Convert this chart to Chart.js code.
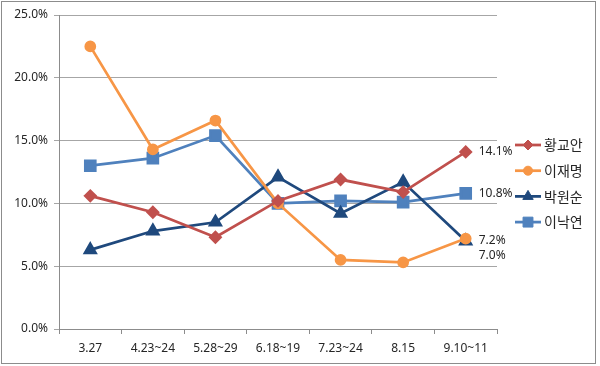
<!DOCTYPE html>
<html>
<head>
<meta charset="utf-8">
<script src="https://cdn.jsdelivr.net/npm/chart.js@4"></script>
<style>
html,body{margin:0;padding:0;background:#fff;}
#wrap{width:600px;height:366px;position:relative;}
</style>
</head>
<body>
<div id="wrap"><canvas id="c" width="600" height="366"></canvas></div>
<script>
const categories = ['3.27','4.23~24','5.28~29','6.18~19','7.23~24','8.15','9.10~11'];
const seriesNames = ['황교안','이재명','박원순','이낙연'];
const hwang = [10.6, 9.3, 7.3, 10.2, 11.9, 10.9, 14.1];
const lee_jm = [22.5, 14.3, 16.6, 10.0, 5.5, 5.3, 7.2];
const park = [6.3, 7.8, 8.5, 12.1, 9.2, 11.7, 7.0];
const lee_ny = [13.0, 13.6, 15.4, 10.0, 10.2, 10.1, 10.8];
const yTicks = [0, 5, 10, 15, 20, 25];

const colors = ['#C0504D', '#F79646', '#1F497D', '#4F81BD'];
const styles = ['rectRot', 'circle', 'triangle', 'rect'];
const radii = [5, 4.5, 6, 7];
const allData = [hwang, lee_jm, park, lee_ny];
// vertical nudges (px) for the end-of-line labels
const labelNudge = [0, 2, 14, 0];

const datasets = allData.map((d, i) => ({
  label: seriesNames[i],
  data: d,
  borderColor: colors[i],
  backgroundColor: colors[i],
  pointBackgroundColor: colors[i],
  pointBorderColor: colors[i],
  pointStyle: styles[i],
  pointRadius: radii[i],
  pointHoverRadius: radii[i],
  borderWidth: 2.75,
  tension: 0
}));

const FONT = '"Noto Sans", "Noto Sans CJK KR", sans-serif';

const extras = {
  id: 'extras',
  beforeDraw(chart) {
    const ctx = chart.ctx;
    ctx.save();
    ctx.fillStyle = '#fff';
    ctx.fillRect(0, 0, chart.width, chart.height);
    ctx.strokeStyle = '#8C8C8C';
    ctx.lineWidth = 1;
    ctx.strokeRect(1.5, 1.5, 594, 362);
    ctx.restore();
  },
  afterDatasetsDraw(chart) {
    const ctx = chart.ctx;
    ctx.save();
    ctx.font = '12px ' + FONT;
    ctx.fillStyle = '#262626';
    ctx.textAlign = 'left';
    ctx.textBaseline = 'middle';
    chart.data.datasets.forEach((ds, i) => {
      const meta = chart.getDatasetMeta(i);
      const pt = meta.data[meta.data.length - 1];
      const v = ds.data[ds.data.length - 1];
      ctx.fillText(v.toFixed(1) + '%', pt.x + 13, pt.y + labelNudge[i]);
    });
    // legend: line + marker + name
    const lx = 515, ly0 = 145, step = 25.7;
    chart.data.datasets.forEach((ds, i) => {
      const y = ly0 + i * step;
      ctx.strokeStyle = ds.borderColor;
      ctx.lineWidth = 2.75;
      ctx.beginPath();
      ctx.moveTo(lx, y);
      ctx.lineTo(lx + 26, y);
      ctx.stroke();
      ctx.fillStyle = ds.backgroundColor;
      ctx.lineWidth = 1;
      Chart.helpers.drawPoint(ctx, {
        pointStyle: ds.pointStyle, rotation: 0, radius: ds.pointRadius, borderWidth: 1
      }, lx + 13, y);
      ctx.fillStyle = '#262626';
      ctx.font = '14px "Noto Sans CJK KR", sans-serif';
      ctx.fillText(ds.label, lx + 29, y);
    });
    ctx.restore();
  }
};

new Chart(document.getElementById('c'), {
  type: 'line',
  data: { labels: categories, datasets },
  options: {
    responsive: false,
    animation: false,
    layout: { padding: { left: 0, right: 103, top: 15, bottom: 0 } },
    plugins: { legend: { display: false }, tooltip: { enabled: false } },
    scales: {
      x: {
        offset: true,
        grid: { offset: true, drawOnChartArea: false, drawTicks: true, tickLength: 5, color: '#8C8C8C' },
        border: { color: '#8C8C8C', width: 1 },
        ticks: { color: '#262626', font: { family: FONT, size: 12 }, padding: 7, maxRotation: 0, autoSkip: false },
        afterFit(s) { s.height = 37; }
      },
      y: {
        min: 0, max: 25,
        afterBuildTicks(s) { s.ticks = yTicks.map(v => ({ value: v })); },
        grid: { color: '#A6A6A6', tickLength: 5, drawTicks: true },
        border: { color: '#8C8C8C', width: 1 },
        ticks: { color: '#262626', font: { family: FONT, size: 12 }, padding: 6,
          callback: v => v.toFixed(1) + '%' },
        afterFit(s) { s.width = 59; }
      }
    }
  },
  plugins: [extras]
});
</script>
</body>
</html>
